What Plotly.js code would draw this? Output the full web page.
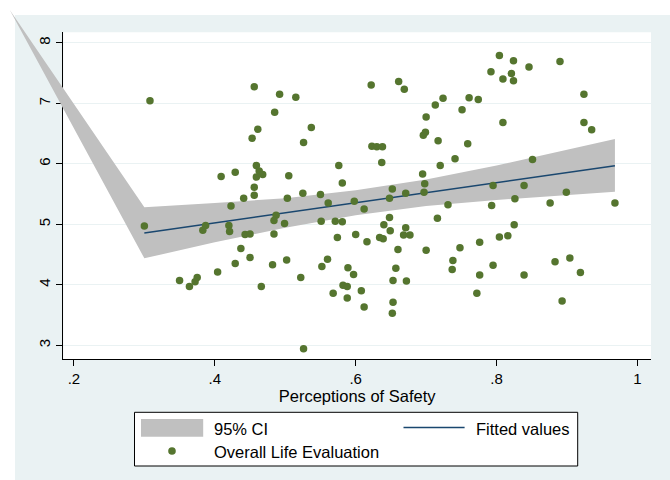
<!DOCTYPE html>
<html>
<head>
<meta charset="utf-8">
<script src="https://cdn.plot.ly/plotly-3.0.1.min.js"></script>
<style>html,body{margin:0;padding:0;background:#fff}#chart{width:670px;height:480px}</style>
</head>
<body>
<div id="chart"></div>
<script>
// ---- data ----
const safety = [0.308,0.456,0.492,0.515,0.485,0.461,0.453,0.537,0.526,0.459,
0.429,0.409,0.463,0.468,0.459,0.505,0.576,0.581,0.456,0.622,
0.661,0.669,0.713,0.724,0.700,0.751,0.761,0.774,0.792,0.804,
0.824,0.809,0.821,0.824,0.846,0.890,0.924,0.924,0.935,0.809,
0.699,0.696,0.717,0.623,0.630,0.638,0.637,0.695,0.720,0.741,
0.759,0.851,0.698,0.652,0.795,0.839,0.456,0.441,0.423,0.387,
0.383,0.503,0.525,0.550,0.561,0.598,0.612,0.487,0.484,0.499,
0.420,0.421,0.551,0.571,0.581,0.443,0.450,0.484,0.574,0.600,
0.616,0.437,0.300,0.450,0.429,0.404,0.350,0.364,0.372,0.375,
0.482,0.502,0.466,0.522,0.552,0.560,0.589,0.597,0.568,0.582,
0.588,0.588,0.526,0.608,0.612,0.648,0.671,0.697,0.731,0.793,
0.826,0.876,0.899,0.968,0.648,0.640,0.649,0.671,0.668,0.677,
0.634,0.639,0.716,0.660,0.700,0.748,0.776,0.738,0.737,0.804,
0.816,0.825,0.657,0.653,0.672,0.653,0.652,0.776,0.795,0.772,
0.839,0.883,0.904,0.919,0.893];
const lifeEval = [7.04,7.27,7.15,7.10,6.85,6.57,6.42,6.60,6.35,5.97,
5.86,5.79,5.88,5.82,5.78,5.80,5.97,5.68,5.61,7.30,
7.36,7.23,6.97,7.08,6.77,6.89,7.09,7.06,7.52,7.79,
7.70,7.40,7.49,7.37,7.60,7.69,7.15,6.68,6.56,6.68,
6.52,6.47,6.38,6.29,6.28,6.28,6.02,5.83,5.97,6.08,
6.33,6.07,5.67,5.58,5.64,5.64,5.48,5.43,5.30,4.98,
4.90,5.43,5.51,5.49,5.35,5.38,5.25,5.15,5.06,5.01,
4.98,4.88,5.05,5.05,5.04,4.83,4.84,4.84,4.78,4.83,
4.71,4.60,4.97,4.45,4.35,4.21,4.07,3.97,4.05,4.12,
4.33,4.41,3.97,4.12,4.30,4.42,4.28,4.17,3.86,3.99,
3.97,3.78,2.94,3.90,3.63,5.43,5.51,5.53,5.32,5.31,
5.42,5.35,5.53,5.35,5.11,4.99,4.89,4.94,4.82,4.82,
4.78,4.76,5.10,4.58,4.57,4.61,4.70,4.40,4.25,4.79,
4.81,4.99,4.27,4.07,4.06,3.71,3.53,4.16,4.32,3.86,
4.16,4.38,4.44,4.20,3.73];
const fitX = [0.300, 0.968];
const fitY = [4.855, 5.967];
// confidence band as drawn (first point is the stray vertex of the reference's band)
const ciX     = [0.109, 0.300, 0.400, 0.500, 0.600, 0.700, 0.800, 0.900, 0.968];
const ciUpper = [8.54,  5.279, 5.35,  5.43,  5.56,  5.74,  5.97,  6.23,  6.408];
const ciLower = [8.54,  4.436, 4.70,  4.94,  5.15,  5.30,  5.40,  5.48,  5.537];
const xTickVals = [0.2, 0.4, 0.6, 0.8, 1];
const xTickText = ['.2', '.4', '.6', '.8', '1'];
const yTickVals = [3, 4, 5, 6, 7, 8];
const yTickText = ['3', '4', '5', '6', '7', '8'];
const seriesNames = ['95% CI', 'Fitted values', 'Overall Life Evaluation'];
const xTitle = 'Perceptions of Safety';

// ---- layout ----
const W = 670, H = 480;
const FONT = 'Liberation Sans, Arial, sans-serif';
const BG = '#EAF2F3';
const GREEN = '#55752F', NAVY = '#1A476F', GREY = '#C0C0C0';
const xDom = [63.3 / W, 651 / W];
const yDom = [1 - 359.3 / H, 1 - 32.3 / H];
const xRange = [0.18495, 1.0192];
const yRange = [2.767, 8.172];
function extend(r, d) {
  const k = (r[1] - r[0]) / (d[1] - d[0]);
  return [r[0] - d[0] * k, r[1] + (1 - d[1]) * k];
}

const ciPolyX = ciX.concat(ciX.slice().reverse());
const ciPolyY = ciUpper.concat(ciLower.slice().reverse());

const traces = [
  {x: ciPolyX, y: ciPolyY, xaxis: 'x2', yaxis: 'y2', type: 'scatter', mode: 'lines',
   fill: 'toself', fillcolor: GREY, line: {width: 0, color: GREY}, name: seriesNames[0],
   hoverinfo: 'skip', showlegend: false},
  {x: fitX, y: fitY, xaxis: 'x2', yaxis: 'y2', type: 'scatter', mode: 'lines',
   line: {color: NAVY, width: 1.5}, name: seriesNames[1], showlegend: false},
  {x: safety, y: lifeEval, xaxis: 'x2', yaxis: 'y2', type: 'scatter', mode: 'markers',
   marker: {color: GREEN, size: 7.5, line: {width: 0}}, name: seriesNames[2], showlegend: false},
  // invisible anchor trace for the visible axes
  {x: [xRange[0]], y: [yRange[0]], xaxis: 'x', yaxis: 'y', type: 'scatter', mode: 'markers',
   marker: {opacity: 0}, hoverinfo: 'skip', showlegend: false}
];

// custom legend in Stata style
const lg = {l: 134.5, r: 577.7, t: 412.3, b: 466};
const px = v => v / W, py = v => 1 - v / H;
const shapes = [
  {type: 'rect', xref: 'paper', yref: 'paper', x0: px(15), x1: 1, y0: 0, y1: py(15),
   fillcolor: BG, line: {width: 0}, layer: 'below'},
  {type: 'rect', xref: 'x domain', yref: 'y domain', x0: 0, x1: 1, y0: 0, y1: 1,
   fillcolor: '#FFFFFF', line: {width: 0}, layer: 'below'},
  {type: 'rect', xref: 'paper', yref: 'paper', x0: px(lg.l), x1: px(lg.r), y0: py(lg.b), y1: py(lg.t),
   fillcolor: '#FFFFFF', line: {color: '#000000', width: 1}, layer: 'above'},
  {type: 'rect', xref: 'paper', yref: 'paper', x0: px(141), x1: px(203.2), y0: py(436.7), y1: py(419),
   fillcolor: GREY, line: {width: 0}, layer: 'above'},
  {type: 'line', xref: 'paper', yref: 'paper', x0: px(403.5), x1: px(464.6), y0: py(427.5), y1: py(427.5),
   line: {color: NAVY, width: 1.5}, layer: 'above'},
  {type: 'circle', xref: 'paper', yref: 'paper', x0: px(168.2), x1: px(175.8), y0: py(454.8), y1: py(447.2),
   fillcolor: GREEN, line: {width: 0}, layer: 'above'}
];
const lgFont = {family: FONT, size: 16.5, color: '#000000'};
const annotations = [
  {text: seriesNames[0], xref: 'paper', yref: 'paper', x: px(212), y: py(429.3), xanchor: 'left', yanchor: 'middle', showarrow: false, font: lgFont},
  {text: seriesNames[1], xref: 'paper', yref: 'paper', x: px(474), y: py(429.3), xanchor: 'left', yanchor: 'middle', showarrow: false, font: lgFont},
  {text: seriesNames[2], xref: 'paper', yref: 'paper', x: px(212), y: py(451.7), xanchor: 'left', yanchor: 'middle', showarrow: false, font: lgFont}
];

const layout = {
  width: W, height: H,
  margin: {l: 0, r: 0, t: 0, b: 0, pad: 0},
  paper_bgcolor: '#FFFFFF',
  plot_bgcolor: 'rgba(0,0,0,0)',
  showlegend: false,
  font: {family: FONT, color: '#000000'},
  xaxis: {domain: xDom, range: xRange, anchor: 'y', tickvals: xTickVals, ticktext: xTickText,
    ticks: 'outside', ticklen: 6, tickwidth: 1, tickcolor: '#000000',
    showline: true, linecolor: '#000000', linewidth: 1, showgrid: false, zeroline: false,
    tickfont: {family: FONT, size: 15, color: '#000000'}, automargin: false,
    title: {text: xTitle, font: {family: FONT, size: 16.5, color: '#000000'}, standoff: 2}},
  yaxis: {domain: yDom, range: yRange, anchor: 'x', tickvals: yTickVals, ticktext: yTickText,
    ticks: 'outside', ticklen: 6, tickwidth: 1, tickcolor: '#000000', tickangle: -90,
    showline: true, linecolor: '#000000', linewidth: 1, showgrid: true, gridcolor: BG, gridwidth: 1,
    zeroline: false, tickfont: {family: FONT, size: 15, color: '#000000'}, automargin: false},
  xaxis2: {domain: [0, 1], range: extend(xRange, xDom), anchor: 'y2', visible: false},
  yaxis2: {domain: [0, 1], range: extend(yRange, yDom), anchor: 'x2', visible: false},
  shapes: shapes,
  annotations: annotations
};

Plotly.newPlot('chart', traces, layout, {staticPlot: true, displayModeBar: false});
</script>
</body>
</html>
